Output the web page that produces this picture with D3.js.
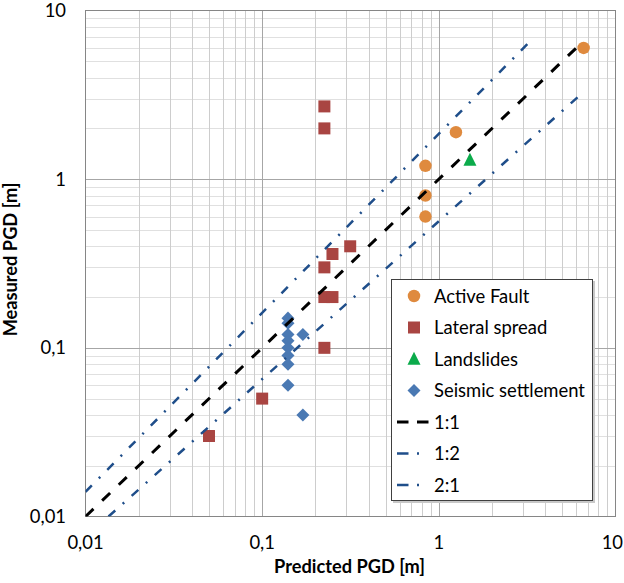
<!DOCTYPE html>
<html><head><meta charset="utf-8">
<script src="https://cdn.jsdelivr.net/npm/d3@7"></script>
<style>body{margin:0;background:#fff}svg{display:block}text{font-family:Lato,"Open Sans",sans-serif;fill:#000}</style>
</head><body><svg id="c" width="624" height="583"></svg>
<script>
// ---- data ----
const tickValues = [0.01, 0.1, 1, 10];
const tickLabels = ["0,01", "0,1", "1", "10"];
const xTitle = "Predicted PGD [m]";
const yTitle = "Measured PGD [m]";
const seriesNames = ["Active Fault", "Lateral spread", "Landslides", "Seismic settlement"];
const activeFaultX = [0.84, 0.84, 0.84, 1.25, 6.6];
const activeFaultY = [1.2, 0.8, 0.6, 1.9, 6.0];
const lateralX = [0.225, 0.225, 0.315, 0.25, 0.225, 0.225, 0.25, 0.225, 0.1, 0.05];
const lateralY = [2.7, 2.0, 0.4, 0.36, 0.3, 0.2, 0.2, 0.1, 0.05, 0.03];
const landslideX = [1.5];
const landslideY = [1.3];
const seismicX = [0.14, 0.14, 0.14, 0.14, 0.14, 0.14, 0.14, 0.14, 0.17, 0.17];
const seismicY = [0.15, 0.14, 0.12, 0.11, 0.1, 0.09, 0.08, 0.06, 0.12, 0.04];
const lineNames = ["1:1", "1:2", "2:1"];
const line11X = [0.01, 6.6], line11Y = [0.01, 6.6];
const line12X = [0.01, 3.3], line12Y = [0.014, 6.6];
const line21X = [0.0135, 6.4], line21Y = [0.01, 3.2];

// ---- layout ----
const svg = d3.select("#c");
const W = 624;
const L = 85.5, R = 615.5, T = 10.5, B = 516.5;
const x = d3.scaleLog().domain([0.01, 10]).range([L, R]);
const y = d3.scaleLog().domain([0.01, 10]).range([B, T]);

const zip = (a, b) => a.map((v, i) => [v, b[i]]);

// fonts fitted to widths
function fitSize(str, target, weight) {
  const t = svg.append("text").attr("font-size", 20).attr("font-weight", weight).text(str);
  const w = t.node().getComputedTextLength(); t.remove();
  return 20 * target / w;
}
const fs = fitSize("Seismic settlement", 151, "normal");
const fsB = fitSize(xTitle, 151, "bold");

// ---- grid ----
const minor = x.ticks().filter(v => !tickValues.includes(v));
const g = svg.append("g").attr("shape-rendering", "crispEdges");
g.selectAll(".hm").data(minor).join("line")
  .attr("x1", L).attr("x2", R).attr("y1", d => Math.round(y(d)) + 0.5).attr("y2", d => Math.round(y(d)) + 0.5)
  .attr("stroke", "#e0e0e0");
g.selectAll(".vm").data(minor).join("line")
  .attr("y1", T).attr("y2", B).attr("x1", d => Math.round(x(d)) + 0.5).attr("x2", d => Math.round(x(d)) + 0.5)
  .attr("stroke", "#cdcdcd");
const major = tickValues.slice(1, -1);
g.selectAll(".hM").data(major).join("line")
  .attr("x1", L).attr("x2", R).attr("y1", d => Math.round(y(d)) + 0.5).attr("y2", d => Math.round(y(d)) + 0.5)
  .attr("stroke", "#a6a6a6");
g.selectAll(".vM").data(major).join("line")
  .attr("y1", T).attr("y2", B).attr("x1", d => Math.round(x(d)) + 0.5).attr("x2", d => Math.round(x(d)) + 0.5)
  .attr("stroke", "#a6a6a6");
g.append("rect").attr("x", L).attr("y", T).attr("width", R - L).attr("height", B - T)
  .attr("fill", "none").attr("stroke", "#868686");

// ---- tick labels ----
svg.selectAll(".yt").data(tickValues).join("text")
  .attr("x", 66).attr("y", d => y(d)).attr("dy", "0.36em").attr("text-anchor", "end")
  .attr("font-size", fs).text((d, i) => tickLabels[i]);
svg.selectAll(".xt").data(tickValues).join("text")
  .attr("y", 548.5).attr("text-anchor", "middle")
  .attr("font-size", fs).text((d, i) => tickLabels[i])
  .attr("x", function (d) {
    const hw = this.getComputedTextLength() / 2;
    return Math.min(x(d), W - 1 - hw);
  });
svg.append("text").attr("x", (L + R) / 2 - 1).attr("y", 573).attr("text-anchor", "middle")
  .attr("font-size", fsB).attr("font-weight", "bold").text(xTitle);
svg.append("text").attr("transform", "translate(17,259.5) rotate(-90)").attr("text-anchor", "middle")
  .attr("font-size", fsB).attr("font-weight", "bold").text(yTitle);

// ---- symbols ----
const triType = { draw(c, s) { const w = Math.sqrt(s); c.moveTo(0, -w * 0.55); c.lineTo(w / 2, w * 0.45); c.lineTo(-w / 2, w * 0.45); c.closePath(); } };
const diaType = { draw(c, s) { const h = Math.sqrt(s) / 2; c.moveTo(0, -h); c.lineTo(h, 0); c.lineTo(0, h); c.lineTo(-h, 0); c.closePath(); } };
const series = [
  { pts: zip(activeFaultX, activeFaultY), type: d3.symbolCircle, size: 122, color: "#df8a3e" },
  { pts: zip(lateralX, lateralY), type: d3.symbolSquare, size: 144, color: "#a94542" },
  { pts: zip(landslideX, landslideY), type: triType, size: 169, color: "#0bab4b" },
  { pts: zip(seismicX, seismicY), type: diaType, size: 170, color: "#4a79b3" }
];
const clip = svg.append("clipPath").attr("id", "pc").append("rect")
  .attr("x", L).attr("y", T).attr("width", R - L).attr("height", B - T);
series.forEach(s => {
  svg.append("g").selectAll("path").data(s.pts).join("path")
    .attr("transform", d => `translate(${x(d[0])},${y(d[1])})`)
    .attr("d", d3.symbol(s.type, s.size)).attr("fill", s.color);
});

// ---- reference lines ----
const lines = [
  { pts: zip(line11X, line11Y), color: "#000", w: 3, dash: "11,12" },
  { pts: zip(line12X, line12Y), color: "#1f4e8a", w: 2.5, dash: "9,10,2,10" },
  { pts: zip(line21X, line21Y), color: "#1f4e8a", w: 2.5, dash: "9,10,2,10" }
];
const lg = d3.line().x(d => x(d[0])).y(d => y(d[1]));
const lgrp = svg.append("g").attr("clip-path", "url(#pc)");
lines.forEach(l => {
  lgrp.append("path").attr("d", lg(l.pts)).attr("fill", "none")
    .attr("stroke", l.color).attr("stroke-width", l.w).attr("stroke-dasharray", l.dash);
});

// ---- legend ----
const leg = svg.append("g");
leg.append("rect").attr("x", 393).attr("y", 281).attr("width", 202).attr("height", 222).attr("fill", "#c8c8c8");
leg.append("rect").attr("x", 391.5).attr("y", 279.5).attr("width", 201).attr("height", 221)
  .attr("fill", "#fff").attr("stroke", "#404040").attr("shape-rendering", "crispEdges");
const rowY = i => 296 + i * 31.5;
series.forEach((s, i) => {
  leg.append("path").attr("transform", `translate(414,${rowY(i)})`)
    .attr("d", d3.symbol(s.type, s.size)).attr("fill", s.color);
  leg.append("text").attr("x", 434).attr("y", rowY(i)).attr("dy", "0.36em")
    .attr("font-size", fs).text(seriesNames[i]);
});
lines.forEach((l, i) => {
  const yy = rowY(i + 4);
  leg.append("line").attr("x1", 397).attr("x2", i === 0 ? 428.5 : 419.5).attr("y1", yy).attr("y2", yy)
    .attr("stroke", l.color).attr("stroke-width", l.w)
    .attr("stroke-dasharray", i === 0 ? "11.5,8.5" : "11.5,8.5,2,20");
  leg.append("text").attr("x", 434).attr("y", yy).attr("dy", "0.36em")
    .attr("font-size", fs).text(lineNames[i]);
});
</script></body></html>
